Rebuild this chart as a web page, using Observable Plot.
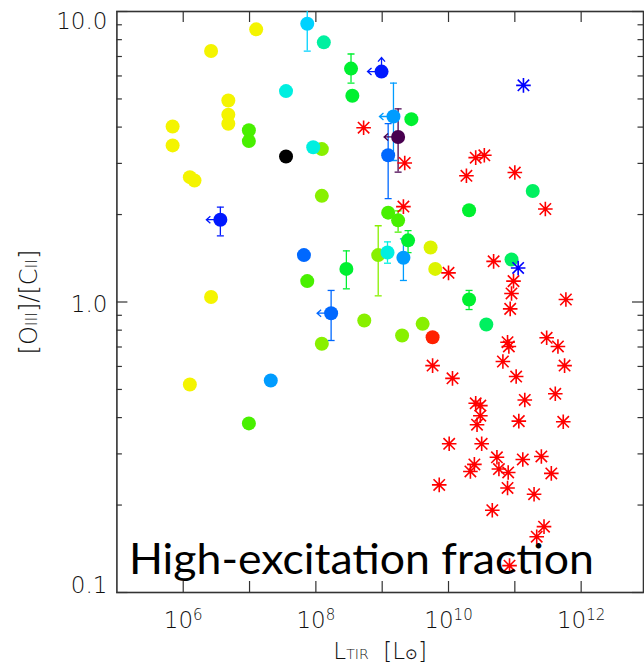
<!DOCTYPE html>
<html>
<head>
<meta charset="utf-8">
<script src="https://cdn.jsdelivr.net/npm/d3@7"></script>
<script src="https://cdn.jsdelivr.net/npm/@observablehq/plot@0.6"></script>
<style>
  html, body { margin: 0; padding: 0; background: #fff; }
</style>
</head>
<body>
<div id="chart"></div>
<script>
// ---------------- data ----------------
// galaxies drawn as filled circles: log10(L_TIR / Lsun), [OIII]/[CII], colour group
const circLogL = [7.10, 6.42, 6.68, 6.68, 6.68, 5.84, 5.84, 6.10, 6.17, 6.42, 6.10,
  9.73, 9.80,
  8.09, 8.09, 8.94, 8.73, 9.61, 8.09, 9.30,
  6.99, 6.99, 6.99, 9.09, 9.24, 7.87,
  8.53, 8.55, 9.44, 9.39, 8.46, 10.31, 10.31,
  11.27, 10.95, 10.57,
  8.12,
  7.55, 7.96, 9.08,
  7.87,
  7.32, 9.17, 9.32,
  7.82, 8.23, 9.09,
  6.56, 8.99,
  9.24,
  7.55,
  9.76];
const circRatio = [8.68, 7.31, 4.94, 4.41, 4.11, 4.02, 3.46, 2.69, 2.62, 1.04, 0.520,
  1.54, 1.30,
  3.36, 2.32, 1.45, 0.864, 0.841, 0.718, 0.767,
  3.90, 3.58, 0.382, 2.03, 1.91, 1.18,
  6.36, 5.13, 4.26, 1.63, 1.30, 2.07, 1.02,
  2.41, 1.40, 0.837,
  7.83,
  5.32, 3.41, 1.48,
  9.08,
  0.537, 4.35, 1.42,
  1.45, 0.915, 3.20,
  1.92, 6.21,
  3.70,
  3.17,
  0.756];
const circGroup = ["g1","g1","g1","g1","g1","g1","g1","g1","g1","g1","g1",
  "g2","g2",
  "g3","g3","g3","g3","g3","g3","g3",
  "g4","g4","g4","g4","g4","g4",
  "g5","g5","g5","g5","g5","g5","g5",
  "g6","g6","g6",
  "g7",
  "g8","g8","g8",
  "g9",
  "g10","g10","g10",
  "g11","g11","g11",
  "g12","g12",
  "g13",
  "g14",
  "g15"];
// error bars (lower / upper ratio), null = none
const circLo = [null,null,null,null,null,null,null,null,null,null,null,
  null,null,
  null,null,1.05,null,null,null,null,
  null,null,null,null,1.74,null,
  5.67,null,null,1.48,1.11,null,0.942,
  null,null,null,
  null,
  null,null,1.36,
  7.31,
  null,3.07,1.186,
  1.41,0.737,2.27,
  1.69,null,
  2.80,
  null,
  null];
const circHi = [null,null,null,null,null,null,null,null,null,null,null,
  null,null,
  null,null,1.83,null,null,null,null,
  null,null,null,null,2.06,null,
  7.14,null,null,1.76,1.50,null,1.096,
  null,null,null,
  null,
  null,null,1.61,
  12,
  null,5.67,1.65,
  1.49,1.096,4.11,
  2.12,null,
  4.62,
  null,
  null];
// limits: "" none, "left" upper limit on L_TIR, "leftup" also lower limit on ratio
const circLimit = ["","","","","","","","","","","",
  "","",
  "","","","","","","",
  "","","","","","",
  "","","","","","","",
  "","","",
  "",
  "","","",
  "",
  "","left","",
  "","left","",
  "left","leftup",
  "left",
  "",
  ""];

// galaxies drawn as asterisks
const starLogL = [8.72, 9.34, 9.32, 10.41, 10.54, 10.27, 11.00, 11.46,
  10.00, 10.68, 10.98, 10.95, 10.93, 11.77,
  10.89, 10.91, 11.48, 11.65, 10.82, 11.75, 9.76, 10.06, 11.02, 11.61, 11.15,
  10.41, 10.48, 10.48, 10.43, 11.06, 11.73,
  10.01, 10.50, 10.73, 11.12, 11.40, 10.39, 10.33, 10.76, 10.90, 11.55,
  10.89, 9.86, 11.29, 10.66, 11.44, 11.33, 10.92,
  11.13, 11.05];
const starRatio = [3.98, 3.01, 2.13, 3.14, 3.20, 2.72, 2.79, 2.09,
  1.26, 1.38, 1.18, 1.07, 0.947, 1.02,
  0.727, 0.703, 0.753, 0.703, 0.624, 0.604, 0.604, 0.546, 0.554, 0.483, 0.460,
  0.448, 0.440, 0.406, 0.378, 0.389, 0.387,
  0.325, 0.325, 0.292, 0.287, 0.294, 0.276, 0.261, 0.266, 0.259, 0.257,
  0.229, 0.2346, 0.218, 0.192, 0.1685, 0.1556, 0.1237,
  5.57, 1.31];
const starGroup = [...Array(48).fill("red"), "blue", "blue"];

// axes
const xTickExps = [6, 7, 8, 9, 10, 11, 12];
const xLabelExps = [6, 8, 10, 12];
const yMajor = [0.1, 1, 10];
const yMinor = [0.2,0.3,0.4,0.5,0.6,0.7,0.8,0.9,2,3,4,5,6,7,8,9];
const yTickValues = [10, 1, 0.1];
const yTickLabels = ["10.0", "1.0", "0.1"];
const xTitle = "L_TIR [L_⊙]";
const yTitle = "[OIII]/[CII]";
const panelTitle = "High-excitation fraction";

// ---------------- build ----------------
const groupNames = ["g1","g2","g3","g4","g5","g6","g7","g8","g9","g10","g11","g12","g13","g14","g15","red","blue"];
const groupColors = ["#f4f400","#dcf400","#88f000","#48f000","#00f030","#00f060","#00f0a0","#00efe0",
  "#00d2ff","#009cff","#0068ff","#0018ff","#48004f","#000000","#ff2000","#ff2000","#1428ff"];

const circles = circLogL.map((l, i) => ({L: 10 ** l, R: circRatio[i], g: circGroup[i],
  lo: circLo[i], hi: circHi[i], lim: circLimit[i]}));
const errs = circles.filter(d => d.lo != null);
const caps = errs.flatMap(d => [{L: d.L, R: d.lo, g: d.g}, {L: d.L, R: d.hi, g: d.g}]);
const leftLim = circles.filter(d => d.lim.startsWith("left"));
const upLim = circles.filter(d => d.lim === "leftup");
const stars = starLogL.map((l, i) => ({L: 10 ** l, R: starRatio[i], g: starGroup[i]}));

const asterisk = {draw(ctx, size) {
  const r = Math.sqrt(size / Math.PI), d = r * 0.78;
  ctx.moveTo(-r, 0); ctx.lineTo(r, 0);
  ctx.moveTo(0, -r); ctx.lineTo(0, r);
  ctx.moveTo(-d, -d); ctx.lineTo(d, d);
  ctx.moveTo(-d, d); ctx.lineTo(d, -d);
}};
const capSym = {draw(ctx) { ctx.moveTo(-3.5, 0); ctx.lineTo(3.5, 0); }};
const leftArrow = {draw(ctx) {
  ctx.moveTo(0, 0); ctx.lineTo(-14, 0);
  ctx.moveTo(-10, -3.5); ctx.lineTo(-14, 0); ctx.lineTo(-10, 3.5);
}};
const upArrow = {draw(ctx) {
  ctx.moveTo(0, 0); ctx.lineTo(0, -14);
  ctx.moveTo(-3.5, -10); ctx.lineTo(0, -14); ctx.lineTo(3.5, -10);
}};

const W = 644, H = 665, mL = 116.4, mR = 1, mT = 11, mB = 73;
const innerW = W - mL - mR, innerH = H - mT - mB;
const tickColor = "#333";
const labelFont = "DejaVu Sans";
const yLabelDy = [10, 2.5, -7];

const plot = Plot.plot({
  width: W, height: H,
  marginLeft: mL, marginRight: mR, marginTop: mT, marginBottom: mB,
  style: {fontFamily: labelFont, background: "white"},
  x: {type: "log", domain: [1e5, 10 ** 12.94], axis: null},
  y: {type: "log", domain: [0.1, 10], axis: null},
  color: {type: "ordinal", domain: groupNames, range: groupColors},
  marks: [
    // ticks (inward, all four sides)
    Plot.tickX(xTickExps, {x: e => 10 ** e, insetTop: innerH - 11, stroke: tickColor, strokeWidth: 1.2}),
    Plot.tickX(xTickExps, {x: e => 10 ** e, insetBottom: innerH - 11, stroke: tickColor, strokeWidth: 1.2}),
    Plot.tickY(yMajor, {y: d => d, insetRight: innerW - 11, stroke: tickColor, strokeWidth: 1.2}),
    Plot.tickY(yMajor, {y: d => d, insetLeft: innerW - 11, stroke: tickColor, strokeWidth: 1.2}),
    Plot.tickY(yMinor, {y: d => d, insetRight: innerW - 5.5, stroke: tickColor, strokeWidth: 1.2}),
    Plot.tickY(yMinor, {y: d => d, insetLeft: innerW - 5.5, stroke: tickColor, strokeWidth: 1.2}),
    Plot.frame({stroke: tickColor, strokeWidth: 1.6}),
    // error bars and limits
    Plot.ruleX(errs, {x: "L", y1: "lo", y2: "hi", stroke: "g", strokeWidth: 1.3, clip: true}),
    Plot.dot(caps, {x: "L", y: "R", symbol: capSym, stroke: "g", fill: "none", strokeWidth: 1.3, clip: true}),
    Plot.dot(leftLim, {x: "L", y: "R", symbol: leftArrow, stroke: "g", fill: "none", strokeWidth: 1.3}),
    Plot.dot(upLim, {x: "L", y: "R", symbol: upArrow, stroke: "g", fill: "none", strokeWidth: 1.3}),
    // points
    Plot.dot(circles, {x: "L", y: "R", r: 7, fill: "g", stroke: null}),
    Plot.dot(stars, {x: "L", y: "R", r: 7.3, symbol: asterisk, stroke: "g", fill: "none", strokeWidth: 1.6}),
    // tick labels
    ...yTickValues.map((v, i) => Plot.text([v], {y: d => d, text: () => yTickLabels[i],
      frameAnchor: "left", textAnchor: "end", lineAnchor: "middle", dx: -9.5, dy: yLabelDy[i],
      fontSize: 23, fontFamily: labelFont, fontWeight: 200, fill: "#111"})),
    Plot.text(xLabelExps, {x: e => 10 ** e, text: e => `10^${e}`, frameAnchor: "bottom",
      textAnchor: "middle", lineAnchor: "middle", dy: 27.7,
      fontSize: 23, fontFamily: labelFont, fontWeight: 200, fill: "#111"}),
    // axis titles
    Plot.text([xTitle], {text: d => d, frameAnchor: "bottom", textAnchor: "middle", lineAnchor: "middle",
      dy: 59.5, fontSize: 23, fontFamily: labelFont, fontWeight: 200, fill: "#111"}),
    Plot.text([yTitle], {text: d => d, frameAnchor: "left", textAnchor: "middle", lineAnchor: "middle",
      rotate: -90, dx: -88, fontSize: 24, fontFamily: labelFont, fontWeight: 200, fill: "#111"}),
    // panel label
    Plot.text([panelTitle], {text: d => d, frameAnchor: "bottom-left", textAnchor: "start", lineAnchor: "middle",
      dx: 12, dy: -32, fontSize: 42, fontFamily: "Lato", fill: "#000"})
  ]
});

// rich text (super/subscripts) post-processing
const NS = "http://www.w3.org/2000/svg";
function rich(el, parts) {
  el.textContent = "";
  for (const p of parts) {
    const ts = document.createElementNS(NS, "tspan");
    ts.textContent = typeof p === "string" ? p : p.t;
    if (p.size) ts.setAttribute("font-size", p.size);
    if (p.dy) ts.setAttribute("dy", p.dy);
    el.appendChild(ts);
  }
}
plot.querySelectorAll("text").forEach(el => {
  const s = el.textContent;
  const m = s.match(/^10\^(\d+)$/);
  if (m) rich(el, ["10", {t: m[1], size: 15, dy: -8}]);
  else if (s === xTitle) rich(el, ["L", {t: "TIR", size: 14}, "  [L", {t: "⊙", size: 15}, "]"]);
  else if (s === yTitle) rich(el, ["[O", {t: "III", size: 16}, "]/[C", {t: "II", size: 16}, "]"]);
  else if (s === panelTitle) {
    el.setAttribute("textLength", 465);
    el.setAttribute("lengthAdjust", "spacingAndGlyphs");
  }
});

document.getElementById("chart").appendChild(plot);
</script>
</body>
</html>
